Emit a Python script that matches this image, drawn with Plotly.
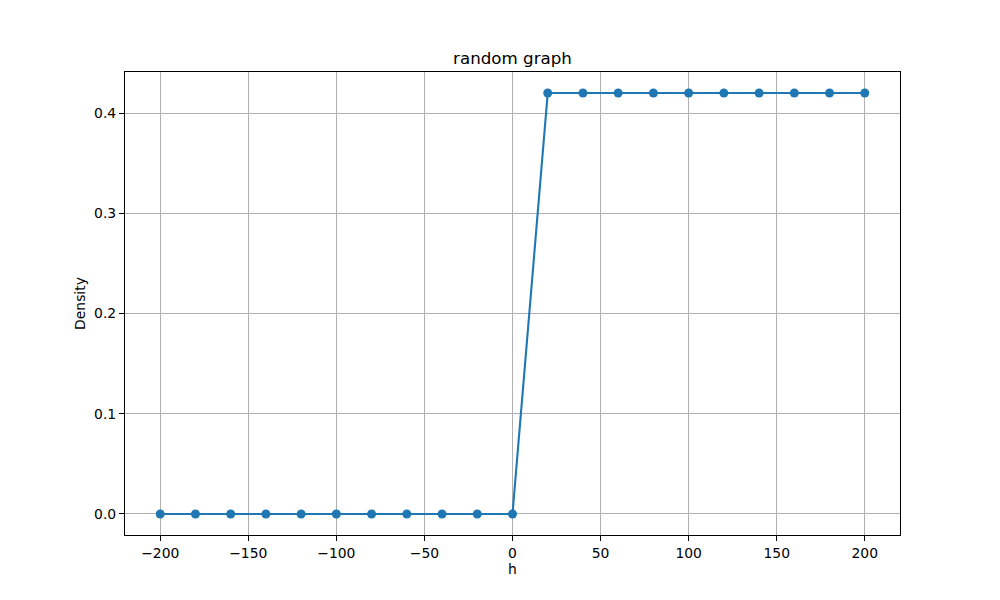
import plotly.graph_objects as go

h = [-200, -180, -160, -140, -120, -100, -80, -60, -40, -20, 0,
     20, 40, 60, 80, 100, 120, 140, 160, 180, 200]
density = [0, 0, 0, 0, 0, 0, 0, 0, 0, 0, 0,
           0.42, 0.42, 0.42, 0.42, 0.42, 0.42, 0.42, 0.42, 0.42, 0.42]
x_ticks = [-200, -150, -100, -50, 0, 50, 100, 150, 200]
y_ticks = [0.0, 0.1, 0.2, 0.3, 0.4]
y_tick_labels = ["0.0", "0.1", "0.2", "0.3", "0.4"]

fig = go.Figure()
fig.add_trace(go.Scatter(
    x=h, y=density, mode="lines+markers",
    line=dict(color="#1f77b4", width=2.1),
    marker=dict(color="#1f77b4", size=9),
    showlegend=False,
))

axis_common = dict(
    showgrid=True, gridcolor="#b0b0b0", gridwidth=1.1,
    showline=True, linecolor="black", linewidth=1.1, mirror=True,
    ticks="outside", ticklen=5, tickwidth=1.1, tickcolor="black",
    zeroline=False, tickfont=dict(size=13.9, color="black"),
)

fig.update_layout(
    width=1000, height=600,
    paper_bgcolor="white", plot_bgcolor="white",
    font=dict(family="DejaVu Sans", size=13.9, color="black"),
    margin=dict(l=117, r=108, t=64, b=73),
    title=dict(text="random graph", x=0.5045, xanchor="center",
               y=1 - 50 / 600, yanchor="middle",
               font=dict(size=16.7, color="black")),
    xaxis=dict(range=[-220, 220], tickvals=x_ticks,
               title=dict(text="h", standoff=4, font=dict(size=13.9)),
               **axis_common),
    yaxis=dict(range=[-0.021, 0.441], tickvals=y_ticks, ticktext=y_tick_labels,
               title=dict(text="Density", standoff=5, font=dict(size=13.9)),
               **axis_common),
)

fig.write_html("out.html")
